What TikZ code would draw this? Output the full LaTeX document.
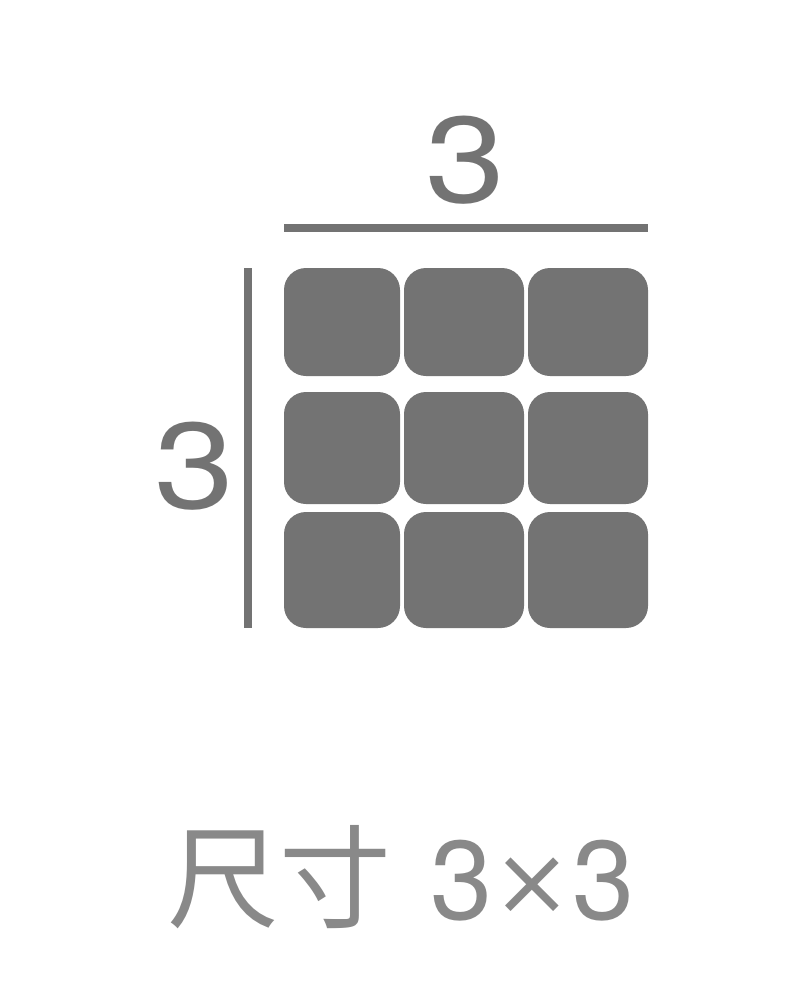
\documentclass[tikz,border=0pt]{standalone}
\usepackage{fontspec}
\setmainfont{TeX Gyre Heros}
\newfontfamily\widefont[FakeStretch=1.18]{TeX Gyre Heros}
\newfontfamily\cjk{Noto Sans CJK SC}
\newfontfamily\symfont{DejaVu Sans}
\definecolor{tilegray}{HTML}{737373}
\definecolor{labelgray}{HTML}{898989}
\begin{document}
\begin{tikzpicture}[x=1pt,y=-1pt,
  tile/.style = {fill=tilegray, rectangle, rounded corners=22pt, inner sep=0pt},
  dimline/.style = {draw=tilegray, line width=8pt},
  dimlabel/.style = {text=tilegray, font=\widefont\fontsize{122}{122}\selectfont, inner sep=0pt},
  caption/.style = {text=labelgray, font=\fontsize{112}{112}\selectfont, inner sep=0pt}]
\useasboundingbox (0,0) rectangle (804,1004);
% tiles: column x/width, row y/height
\foreach \cx/\cw [count=\i] in {342/116, 464/120, 588/120}
  \foreach \ry/\rh [count=\j] in {322/108, 448/112, 570/116}
    \node[tile, minimum width=\cw pt, minimum height=\rh pt] (t\j\i) at (\cx,\ry) {};
% dimension lines
\coordinate (wl) at (284,228);
\coordinate (wr) at (648,228);
\coordinate (ht) at (248,268);
\coordinate (hb) at (248,628);
\draw[dimline] (wl) -- (wr);
\draw[dimline] (ht) -- (hb);
\node[dimlabel] (w) at (466,160) {3};
\node[dimlabel] (h) at (195,466) {3};
\node[caption, anchor=base west] (size) at (167,919)
  {{\cjk 尺寸} \hspace{8pt}3{\symfont\fontsize{95}{95}\selectfont\raisebox{5pt}{×}}3};
\end{tikzpicture}
\end{document}
